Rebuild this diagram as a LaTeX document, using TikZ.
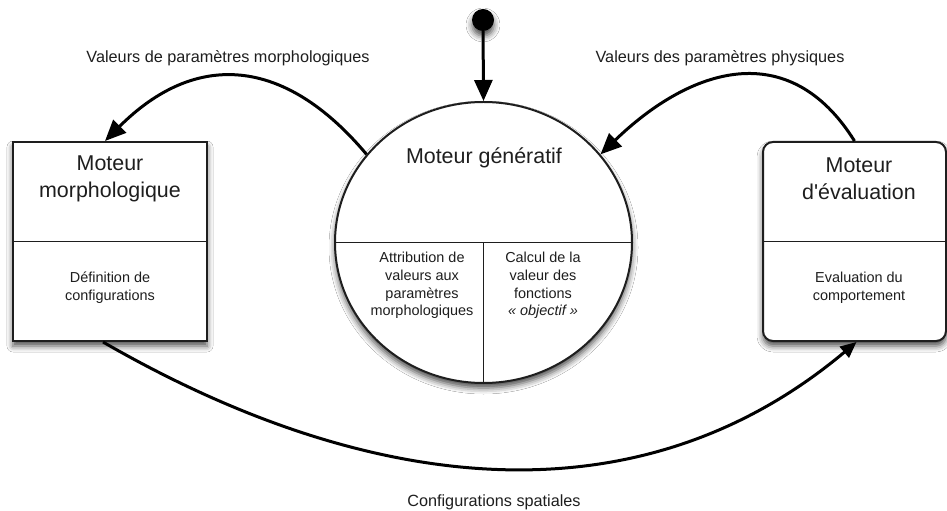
\documentclass[tikz,border=0pt]{standalone}
\usepackage{fontspec}
\setmainfont{Liberation Sans}
\usetikzlibrary{shapes.geometric,arrows.meta,shadows.blur}
\definecolor{ink}{HTML}{1E1E1E}
\tikzset{
  softshadow/.style={blur shadow={shadow xshift=0bp, shadow yshift=-5bp, shadow blur radius=6bp, shadow opacity=70}},
  blockbox/.style={draw=ink, line width=2bp, fill=white, inner sep=0pt, softshadow},
  divider/.style={draw=ink, line width=1.6bp},
  bigtext/.style={text=ink, inner sep=0pt, align=center, font=\fontsize{21.5}{27}\selectfont},
  smalltext/.style={text=ink, inner sep=0pt, align=center, font=\fontsize{14.5}{17.8}\selectfont},
  labeltext/.style={text=ink, inner sep=0pt, align=center, font=\fontsize{16.3}{19}\selectfont},
  flow/.style={draw=black, line width=3bp, -{Triangle[length=21bp,width=18bp]}},
  flowsmall/.style={draw=black, line width=3bp, -{Triangle[length=16bp,width=14bp]}}
}
\begin{document}
\begin{tikzpicture}[x=1bp,y=1bp]
\useasboundingbox (0,0) rectangle (947,-511);
\fill[white] (0,0) rectangle (947,-511);

% blocks
\node[blockbox, rectangle, minimum width=194bp, minimum height=199bp] (mm) at (110,-241.5) {};
\node[blockbox, rectangle, rounded corners=10bp, minimum width=183bp, minimum height=199bp] (me) at (854.5,-241.5) {};
\node[blockbox, ellipse, minimum width=297bp, minimum height=281bp] (gen) at (483.5,-242.5) {};
\node[circle, fill=black, inner sep=0pt, minimum size=22bp, softshadow] (dot) at (483,-20) {};

% dividers
\draw[divider] (mm.west) -- (mm.east);
\draw[divider] (me.west) -- (me.east);
\draw[divider] (gen.west) -- (gen.east);
\draw[divider] (gen.center) -- (gen.south);

% texts
\node[bigtext] (mmtitle) at (110,-178.5) {Moteur\\morphologique};
\node[smalltext] (mmsub) at (110,-288) {Définition de\\configurations};
\node[bigtext] (metitle) at (859,-178.5) {Moteur\\d\textquotesingle évaluation};
\node[smalltext] (mesub) at (859,-288) {Evaluation du\\comportement};
\node[bigtext] (gentitle) at (484,-158) {Moteur génératif};
\node[smalltext] (genleft) at (422,-285.5) {Attribution de\\valeurs aux\\paramètres\\morphologiques};
\node[smalltext] (genright) at (543,-285.5) {Calcul de la\\valeur des\\fonctions\\\textit{« objectif »}};

% labels
\node[labeltext] (lab1) at (228,-58) {Valeurs de paramètres morphologiques};
\node[labeltext] (lab2) at (720,-58) {Valeurs des paramètres physiques};
\node[labeltext] (lab3) at (494,-502) {Configurations spatiales};

% connectors
\draw[flow] (dot) -- (gen.north);
\draw[flow] (gen.143.7) to[out=130,in=45,looseness=1.25] ([xshift=-5bp]mm.north);
\draw[flow] (me.north) to[out=122,in=44,looseness=1.25] (gen.37.7);
\draw[flowsmall] ([xshift=-7bp]mm.south) to[out=-30,in=-140] ([xshift=2bp]me.south);
\end{tikzpicture}
\end{document}
